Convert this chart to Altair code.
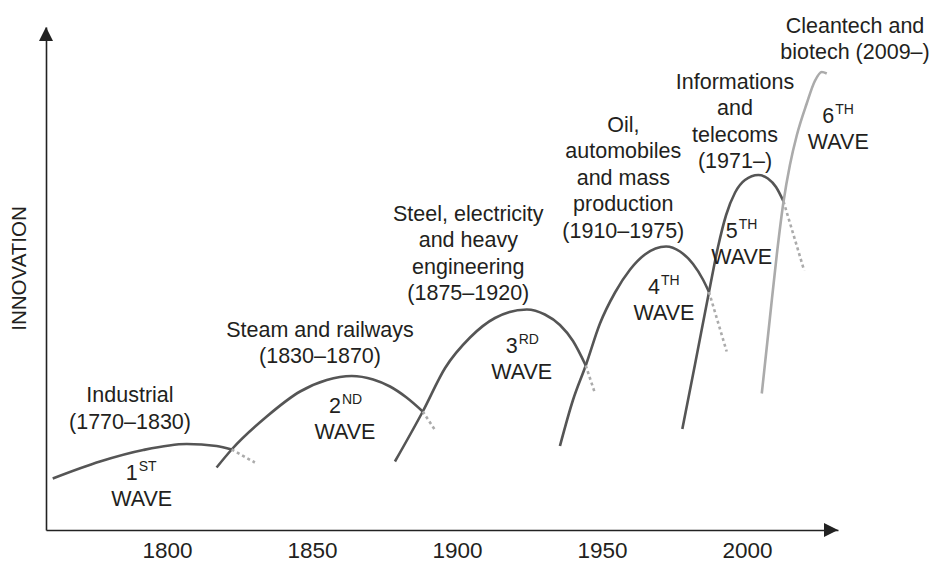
import altair as alt
import pandas as pd

FONT = "Liberation Sans"
DARK = "#555555"
LIGHT = "#ababab"
INK = "#231f20"

# scale domains (years, innovation units)
X_DOMAIN = [1758.28, 2031.38]
Y_DOMAIN = [0, 100.6]

# ---- curve points (year, innovation) ----
w1_years = [1760.6, 1776.9, 1791.8, 1806.8, 1817.1, 1822.3]
w1_vals = [10.3, 13.7, 16.0, 17.2, 16.8, 16.1]
w1_tail_years = [1822.3, 1830.3]
w1_tail_vals = [16.1, 13.5]

w2_years = [1817.1, 1822.3, 1834.4, 1845.9, 1855.1, 1863.7, 1871.1, 1876.9, 1882.6, 1888.2]
w2_vals = [12.5, 16.1, 22.7, 27.7, 30.0, 30.8, 30.1, 28.7, 26.5, 23.7]
w2_tail_years = [1888.2, 1892.4]
w2_tail_vals = [23.7, 20.0]

w3_years = [1878.6, 1888.2, 1895.9, 1904.5, 1913.1, 1924.1, 1930.3, 1935.5, 1940.0, 1944.4]
w3_vals = [13.7, 23.7, 32.4, 38.5, 42.4, 44.1, 43.1, 41.0, 37.8, 32.9]
w3_tail_years = [1944.4, 1947.6]
w3_tail_vals = [32.9, 27.3]

w4_years = [1935.5, 1940.0, 1944.4, 1949.3, 1954.5, 1959.7, 1964.8, 1972.1, 1976.9, 1981.4, 1984.8, 1986.9]
w4_vals = [16.8, 26.0, 32.9, 41.3, 47.5, 52.1, 55.1, 56.7, 55.7, 53.2, 50.1, 47.6]
w4_tail_years = [1986.9, 1993.0]
w4_tail_vals = [47.6, 35.7]

w5_years = [1977.7, 1982.1, 1986.9, 1990.0, 1992.8, 1995.9, 1999.3, 2003.9, 2007.2, 2010.0, 2012.6]
w5_vals = [20.2, 33.2, 47.6, 56.6, 63.0, 67.5, 70.0, 71.0, 70.3, 68.6, 65.7]
w5_tail_years = [2012.6, 2019.7]
w5_tail_vals = [65.7, 51.9]

w6_years = [2005.1, 2007.9, 2010.3, 2012.6, 2014.8, 2017.2, 2020.6, 2023.4, 2025.8, 2027.5]
w6_vals = [27.3, 42.4, 55.2, 65.7, 73.0, 79.0, 85.3, 89.8, 91.6, 91.3]

# ---- annotations ----
titles = [
    "Industrial\n(1770–1830)",
    "Steam and railways\n(1830–1870)",
    "Steel, electricity\nand heavy\nengineering\n(1875–1920)",
    "Oil,\nautomobiles\nand mass\nproduction\n(1910–1975)",
    "Informations\nand\ntelecoms\n(1971–)",
    "Cleantech and\nbiotech (2009–)",
]
title_years = [1787.24, 1852.76, 1903.90, 1957.34, 1995.86, 2037.24]
title_vals = [29.0, 42.04, 65.24, 83.06, 91.7, 102.9]

numerals = ["1", "2", "3", "4", "5", "6"]
suffixes = ["ST", "ND", "RD", "TH", "TH", "TH"]
wave_years = [1791.28, 1861.38, 1922.31, 1971.38, 1998.17, 2031.48]
wave_vals = [4.8, 18.12, 30.12, 41.92, 53.26, 76.12]

x_ticks = [1800, 1850, 1900, 1950, 2000]


def frame(years, vals, wave):
    return pd.DataFrame({"year": years, "value": vals, "wave": wave})


dark_df = pd.concat([
    frame(w1_years, w1_vals, "w1"), frame(w2_years, w2_vals, "w2"),
    frame(w3_years, w3_vals, "w3"), frame(w4_years, w4_vals, "w4"),
    frame(w5_years, w5_vals, "w5"),
])
light_df = frame(w6_years, w6_vals, "w6")
tail_df = pd.concat([
    frame(w1_tail_years, w1_tail_vals, "w1"), frame(w2_tail_years, w2_tail_vals, "w2"),
    frame(w3_tail_years, w3_tail_vals, "w3"), frame(w4_tail_years, w4_tail_vals, "w4"),
    frame(w5_tail_years, w5_tail_vals, "w5"),
])

title_df = pd.DataFrame({"year": title_years, "value": title_vals, "label": titles})
wave_df = pd.DataFrame({"year": wave_years, "value": wave_vals,
                        "num": numerals, "sup": suffixes, "w": ["WAVE"] * 6})

xs = alt.Scale(domain=X_DOMAIN, nice=False, zero=False)
ys = alt.Scale(domain=Y_DOMAIN, nice=False, zero=False)

x_enc = alt.X("year:Q", scale=xs, axis=alt.Axis(
    values=x_ticks, format="d", ticks=False, tickSize=0, grid=False, title=None,
    labelFont=FONT, labelFontSize=22.5, labelColor=INK, labelPadding=9,
    domainColor="#222222", domainWidth=1.6, labelFlush=False))
y_enc = alt.Y("value:Q", scale=ys, axis=alt.Axis(
    labels=False, ticks=False, tickSize=0, grid=False, title="INNOVATION",
    titleFont=FONT, titleFontSize=20.5, titleFontWeight="normal", titleColor=INK,
    titleAngle=270, titleX=-26.5, titleY=241, titleAlign="center", titleBaseline="middle",
    domainColor="#222222", domainWidth=1.6))

base_x = alt.X("year:Q", scale=xs)
base_y = alt.Y("value:Q", scale=ys)

dark = alt.Chart(dark_df).mark_line(color=DARK, strokeWidth=2.6, interpolate="monotone").encode(
    x=x_enc, y=y_enc, detail="wave:N")
light = alt.Chart(light_df).mark_line(color=LIGHT, strokeWidth=2.6, interpolate="monotone").encode(
    x=base_x, y=base_y, detail="wave:N")
tails = alt.Chart(tail_df).mark_line(color=LIGHT, strokeWidth=2.6, strokeDash=[3, 3]).encode(
    x=base_x, y=base_y, detail="wave:N")

title_text = alt.Chart(title_df).mark_text(
    font=FONT, fontSize=21.5, color=INK, align="center", baseline="top",
    lineBreak="\n", lineHeight=26.5).encode(x=base_x, y=base_y, text="label:N")
wave_text = alt.Chart(wave_df).mark_text(
    font=FONT, fontSize=21.5, color=INK, align="center", baseline="alphabetic").encode(
    x=base_x, y=base_y, text="w:N")
num_text = alt.Chart(wave_df).mark_text(
    font=FONT, fontSize=21.5, color=INK, align="right", baseline="alphabetic", dx=-4, dy=-26).encode(
    x=base_x, y=base_y, text="num:N")
sup_text = alt.Chart(wave_df).mark_text(
    font=FONT, fontSize=14, color=INK, align="left", baseline="alphabetic", dx=-3, dy=-35).encode(
    x=base_x, y=base_y, text="sup:N")

# axis arrowheads
arrow_df = pd.DataFrame({"year": [X_DOMAIN[0], 2028.97], "value": [99.2, 0.0], "which": ["y", "x"]})
y_arrow = alt.Chart(arrow_df[arrow_df.which == "y"]).mark_point(
    shape="M0,-1L1,1L-1,1Z", filled=True, size=196, color="#222222", opacity=1).encode(x=base_x, y=base_y)
x_arrow = alt.Chart(arrow_df[arrow_df.which == "x"]).mark_point(
    shape="M1,0L-1,-1L-1,1Z", filled=True, size=196, color="#222222", opacity=1).encode(x=base_x, y=base_y)

chart = alt.layer(dark, light, tails, title_text, wave_text, num_text, sup_text, y_arrow, x_arrow).properties(
    width=792, height=503,
    autosize=alt.AutoSizeParams(type="none"),
    padding={"left": 38, "top": 19, "right": 92, "bottom": 33},
).configure_view(stroke=None)

chart.save("out.html", embed_options={"renderer": "svg", "actions": False})
